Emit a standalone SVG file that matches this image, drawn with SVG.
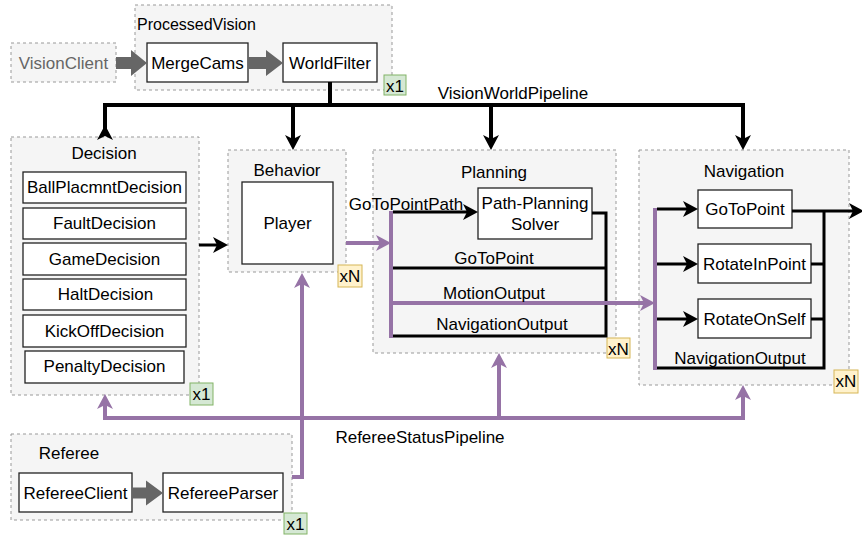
<svg xmlns="http://www.w3.org/2000/svg" width="862" height="535" viewBox="0 0 862 535">
<style>
text{font-family:"Liberation Sans",Arial,Helvetica,sans-serif;font-size:17px;fill:#000;text-anchor:middle;dominant-baseline:central}
.cont{fill:#f5f5f5;stroke:#999;stroke-width:1;stroke-dasharray:3 3}
.box{fill:#fff;stroke:#222;stroke-width:1.3}
.g1{fill:#d5e8d4;stroke:#82b366;stroke-width:1}
.gN{fill:#fff2cc;stroke:#d6b656;stroke-width:1}
.blk{fill:none;stroke:#000;stroke-width:3}
.vw{fill:none;stroke:#000;stroke-width:4}
.pur{fill:none;stroke:#9673a6;stroke-width:4}
.barrow{fill:#666;stroke:none}
</style>
<defs>
<marker id="ab" markerUnits="userSpaceOnUse" markerWidth="16" markerHeight="16" refX="9" refY="8" orient="auto"><path d="M0,0 L15,8 L0,16 L4,8 Z" fill="#000"/></marker>
<marker id="ap" markerUnits="userSpaceOnUse" markerWidth="16" markerHeight="16" refX="9" refY="8" orient="auto"><path d="M0,0 L15,8 L0,16 L4,8 Z" fill="#9673a6"/></marker>
</defs>

<g id="VisionClient">
<rect class="cont" x="11" y="43" width="105" height="39"/>
<text x="63.5" y="63" style="fill:#666">VisionClient</text>
</g>

<g id="ProcessedVision">
<rect class="cont" x="135" y="5" width="257" height="85"/>
<text x="137" y="24" style="text-anchor:start;font-size:16px">ProcessedVision</text>
<g id="MergeCams"><rect class="box" x="147" y="43" width="101" height="39"/><text x="197.5" y="63">MergeCams</text></g>
<g id="WorldFilter"><rect class="box" x="283" y="43" width="94" height="39"/><text x="330" y="63">WorldFilter</text></g>
<rect class="g1" x="384" y="75" width="22" height="20"/><text x="395" y="86">x1</text>
</g>

<g id="Decision">
<rect class="cont" x="11" y="137" width="188" height="258"/>
<text x="104" y="153">Decision</text>
<rect class="box" x="23" y="172" width="163" height="31"/><text x="104.5" y="187.5">BallPlacmntDecision</text>
<rect class="box" x="23" y="208" width="163" height="31"/><text x="104.5" y="223.5">FaultDecision</text>
<rect class="box" x="23" y="243" width="163" height="32"/><text x="104.5" y="259">GameDecision</text>
<rect class="box" x="23" y="279" width="163" height="31"/><text x="105.5" y="294.5">HaltDecision</text>
<rect class="box" x="23" y="315" width="163" height="32"/><text x="104.5" y="331">KickOffDecision</text>
<rect class="box" x="25" y="351" width="159" height="32"/><text x="104.5" y="366">PenaltyDecision</text>
<rect class="g1" x="190" y="383" width="23" height="22"/><text x="201.5" y="394">x1</text>
</g>

<g id="Behavior">
<rect class="cont" x="228" y="150" width="118" height="122"/>
<text x="287" y="170">Behavior</text>
<g id="Player"><rect class="box" x="242" y="182" width="91" height="82"/><text x="287.5" y="223">Player</text></g>
<rect class="gN" x="338" y="265" width="24" height="22"/><text x="350" y="276">xN</text>
</g>

<g id="Planning">
<rect class="cont" x="373" y="150" width="243" height="203"/>
<text x="494" y="172">Planning</text>
<g id="PathPlanningSolver"><rect class="box" x="478" y="188" width="114" height="51"/><text x="535" y="203">Path-Planning</text><text x="535" y="224">Solver</text></g>
<rect class="gN" x="607" y="338" width="23" height="20"/><text x="618.5" y="349">xN</text>
</g>

<g id="Navigation">
<rect class="cont" x="639" y="150" width="210" height="235"/>
<text x="744" y="171">Navigation</text>
<g id="NavGoToPoint"><rect class="box" x="698" y="190" width="94" height="38"/><text x="745" y="209.5">GoToPoint</text></g>
<g id="RotateInPoint"><rect class="box" x="698" y="244" width="113" height="39"/><text x="754.5" y="264">RotateInPoint</text></g>
<g id="RotateOnSelf"><rect class="box" x="698" y="299" width="113" height="39"/><text x="754.5" y="319">RotateOnSelf</text></g>
<rect class="gN" x="834" y="370" width="24" height="23"/><text x="846" y="381.5">xN</text>
</g>

<g id="Referee">
<rect class="cont" x="11" y="434" width="281" height="86"/>
<text x="69" y="453">Referee</text>
<g id="RefereeClient"><rect class="box" x="19" y="473" width="113" height="39"/><text x="75.5" y="493">RefereeClient</text></g>
<g id="RefereeParser"><rect class="box" x="163" y="473" width="120" height="39"/><text x="223" y="493">RefereeParser</text></g>
<rect class="g1" x="284" y="513" width="23" height="21"/><text x="295.5" y="524">x1</text>
</g>

<g id="connectors">
<polygon class="barrow" points="116,57 131,57 131,50 147,63 131,76 131,69 116,69"/>
<polygon class="barrow" points="248,57 266,57 266,50 283,63 266,76 266,69 248,69"/>
<polygon class="barrow" points="132,487.5 146,487.5 146,480.5 163,493 146,505.5 146,498.5 132,498.5"/>

<path class="vw" d="M330,82 V105"/>
<path class="vw" d="M105,131 V105 H743 V144" marker-start="url(#ab)" marker-end="url(#ab)"/>
<path class="vw" d="M293,105 V144" marker-end="url(#ab)"/>
<path class="vw" d="M491,105 V144" marker-end="url(#ab)"/>
<text x="513" y="93">VisionWorldPipeline</text>

<path class="blk" d="M199,245 H222" marker-end="url(#ab)"/>

<path class="blk" d="M393,212 H472" marker-end="url(#ab)"/>
<path class="blk" d="M592,213 H606 V336 H393"/>
<path class="blk" d="M393,268 H606"/>
<path class="pur" d="M391,211 V338"/>
<path class="pur" d="M346,243 H385" marker-end="url(#ap)"/>
<path class="pur" d="M391,303 H649" marker-end="url(#ap)"/>
<text x="406" y="204">GoToPointPath</text>
<text x="494" y="258">GoToPoint</text>
<text x="494" y="293">MotionOutput</text>
<text x="502" y="324">NavigationOutput</text>

<path class="blk" d="M657,209 H692" marker-end="url(#ab)"/>
<path class="blk" d="M657,264 H692" marker-end="url(#ab)"/>
<path class="blk" d="M657,319 H692" marker-end="url(#ab)"/>
<path class="blk" d="M792,211 H858" marker-end="url(#ab)"/>
<path class="blk" d="M824,211 V368 H655"/>
<path class="blk" d="M811,264 H824"/>
<path class="blk" d="M811,319 H824"/>
<path class="pur" d="M655,208 V370"/>
<text x="740" y="358">NavigationOutput</text>

<path class="pur" d="M292,477 H302 V279" marker-end="url(#ap)"/>
<path class="pur" d="M302,418 H105 V400" marker-end="url(#ap)"/>
<path class="pur" d="M302,418 H499 V359" marker-end="url(#ap)"/>
<path class="pur" d="M499,418 H743 V391" marker-end="url(#ap)"/>
<text x="420" y="437">RefereeStatusPipeline</text>
</g>
</svg>
